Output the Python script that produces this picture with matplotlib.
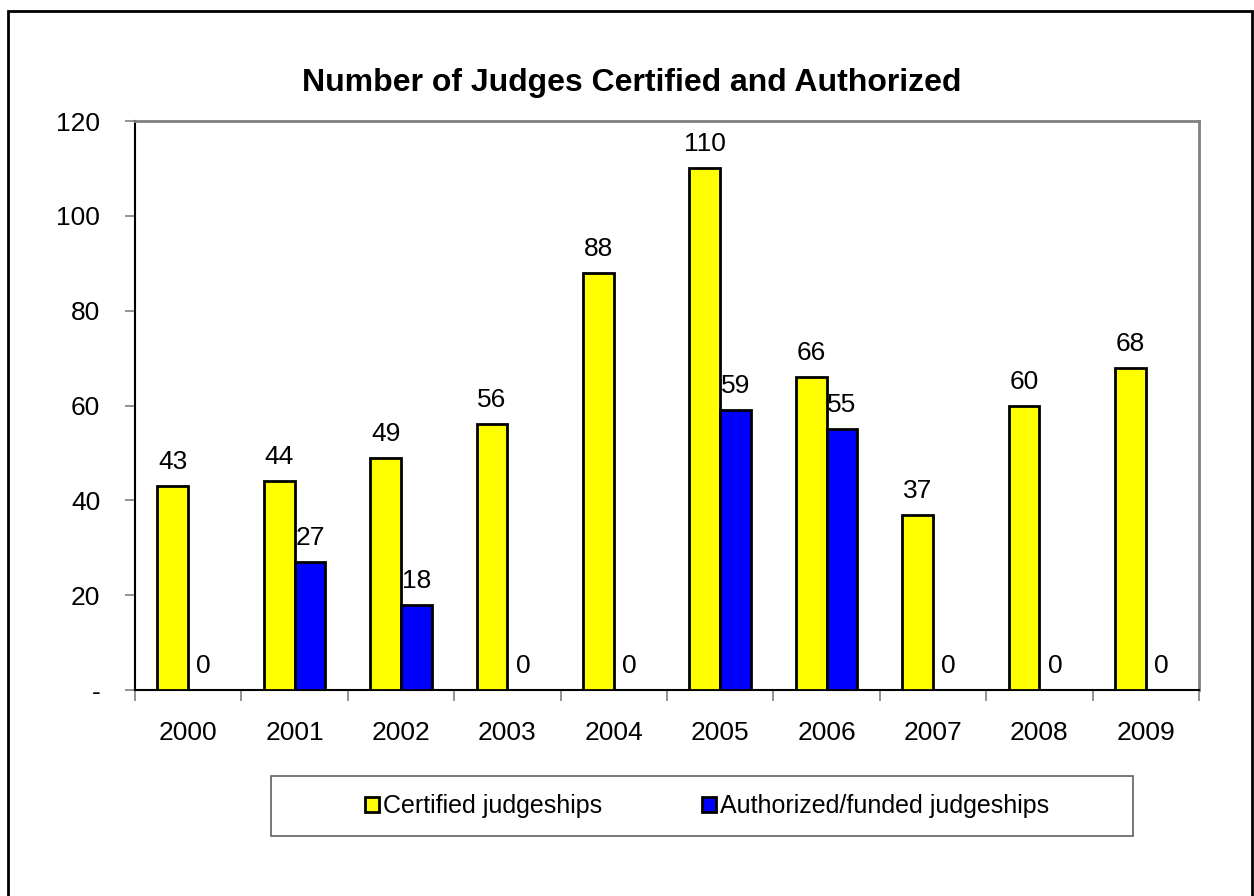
import matplotlib.pyplot as plt
import numpy as np
from matplotlib.patches import Rectangle, Patch

years = ["2000", "2001", "2002", "2003", "2004", "2005", "2006", "2007", "2008", "2009"]
certified = [43, 44, 49, 56, 88, 110, 66, 37, 60, 68]
authorized = [0, 27, 18, 0, 0, 59, 55, 0, 0, 0]
y_ticks = [0, 20, 40, 60, 80, 100, 120]
y_tick_labels = ["-", "20", "40", "60", "80", "100", "120"]

plt.rcParams['font.family'] = ['Liberation Sans', 'DejaVu Sans']

W, H = 1254, 896
fig = plt.figure(figsize=(W / 100, H / 100), dpi=100)
fig.patch.set_facecolor("white")

# outer chart border (bottom edge runs off the canvas)
fig.patches.append(Rectangle((8 / W, -0.05), 1244 / W, 1.05 - 11 / H,
                             transform=fig.transFigure, fill=False,
                             edgecolor="black", linewidth=2))

ax = fig.add_axes([135 / W, 1 - 690 / H, 1064 / W, 569 / H])

x = np.arange(len(years))
bw = 0.29
ax.bar(x - bw / 2, certified, bw, color="#ffff00", edgecolor="black", linewidth=2,
       label="Certified judgeships", zorder=3)
ax.bar(x + bw / 2, authorized, bw, color="#0000ff", edgecolor="black", linewidth=2,
       label="Authorized/funded judgeships", zorder=3)

for i in range(len(years)):
    ax.annotate(str(certified[i]), (x[i] - bw / 2, certified[i]), xytext=(0, 17),
                textcoords="offset pixels", ha="center", va="baseline", fontsize=19)
    ax.annotate(str(authorized[i]), (x[i] + bw / 2, authorized[i]), xytext=(0, 17),
                textcoords="offset pixels", ha="center", va="baseline", fontsize=19)

ax.set_xlim(-0.5, len(years) - 0.5)
ax.set_ylim(0, 120)
ax.set_yticks(y_ticks)
ax.set_yticklabels(y_tick_labels, fontsize=19)
ax.tick_params(axis="y", direction="out", length=7, width=1.2, color="#808080", pad=18)

# category ticks sit on the boundaries, year labels in the middle
ax.set_xticks(np.arange(len(years) + 1) - 0.5)
ax.set_xticklabels([])
ax.set_xticks(x, minor=True)
ax.set_xticklabels(years, minor=True, fontsize=19)
ax.tick_params(axis="x", which="major", direction="out", length=8, width=1.2, color="#808080")
ax.tick_params(axis="x", which="minor", length=0, pad=22)

ax.spines["left"].set_color("black")
ax.spines["bottom"].set_color("black")
ax.spines["left"].set_linewidth(1.5)
ax.spines["bottom"].set_linewidth(1.5)
ax.spines["top"].set_color("#808080")
ax.spines["right"].set_color("#808080")
ax.spines["top"].set_linewidth(2)
ax.spines["right"].set_linewidth(2)

fig.text(632 / W, 1 - 83 / H, "Number of Judges Certified and Authorized",
         ha="center", va="center", fontsize=23, fontweight="bold")

# legend frame drawn separately so it can span the full width
fig.patches.append(Rectangle((271 / W, 1 - 836 / H), 862 / W, 60 / H,
                             transform=fig.transFigure, fill=False,
                             edgecolor="#606060", linewidth=1.2))
handles = [Patch(facecolor="#ffff00", edgecolor="black", linewidth=2),
           Patch(facecolor="#0000ff", edgecolor="black", linewidth=2)]
fig.legend(handles, ["Certified judgeships", "Authorized/funded judgeships"],
           loc="center", bbox_to_anchor=(707 / W, 1 - 806 / H),
           ncol=2, fontsize=18, frameon=False,
           handlelength=0.55, handleheight=0.55, handletextpad=0.15,
           columnspacing=4.0)

fig.savefig("out.png", dpi=100)
